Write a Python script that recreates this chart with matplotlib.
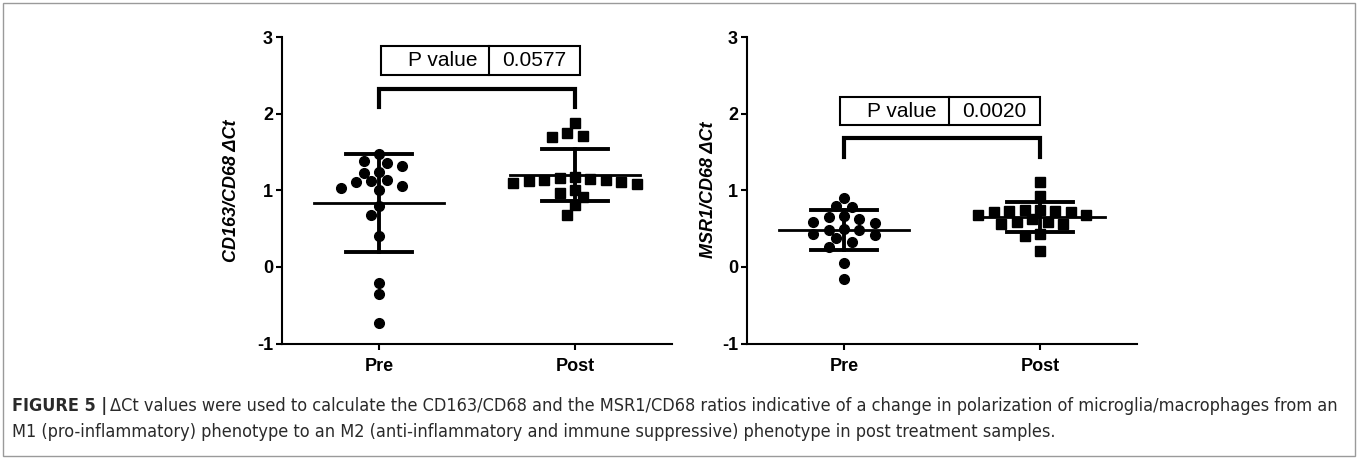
import matplotlib
matplotlib.use("Agg")
import matplotlib.pyplot as plt
from matplotlib.patches import Rectangle
import numpy as np

plt.rcParams['font.family'] = ['Liberation Sans', 'DejaVu Sans']

groups = ["Pre", "Post"]

cd163_pre = [1.47, 1.35, 1.38, 1.24, 1.22, 1.32, 1.12, 1.06, 1.005, 1.035,
             1.11, 1.135, 0.80, 0.68, 0.40, -0.21, -0.35, -0.73]
cd163_post = [1.876, 1.714, 1.69, 1.745, 1.13, 1.10, 1.15, 1.12, 1.14,
              1.11, 1.16, 1.17, 1.08, 0.96, 0.91, 1.005, 0.81, 0.68]

msr1_pre = [0.897, 0.78, 0.80, 0.66, 0.62, 0.57, 0.58, 0.65, 0.43, 0.375,
            0.48, 0.48, 0.50, 0.42, 0.32, 0.265, 0.05, -0.16]
msr1_post = [1.11, 0.93, 0.74, 0.73, 0.72, 0.72, 0.73, 0.74, 0.68, 0.68,
             0.58, 0.56, 0.56, 0.58, 0.62, 0.43, 0.40, 0.21]

p_values = ["0.0577", "0.0020"]
y_labels = ["CD163/CD68 \u0394Ct", "MSR1/CD68 \u0394Ct"]

caption_head = "FIGURE 5 |"
caption_l1 = ("\u0394Ct values were used to calculate the CD163/CD68 and the MSR1/CD68 ratios "
              "indicative of a change in polarization of microglia/macrophages from an")
caption_l2 = ("M1 (pro-inflammatory) phenotype to an M2 (anti-inflammatory and immune "
              "suppressive) phenotype in post treatment samples.")

# pixel scale of the axes (data unit -> px), used for the swarm layout
PX_X = 196.0
PX_Y = 76.6


def swarm_offsets(vals, step_px=7.7, diam_px=10.5):
    # simple beeswarm: highest value first, nearest free slot to the centre
    vals = np.asarray(vals, dtype=float)
    order = np.argsort(-vals)
    placed = []
    off = np.zeros(len(vals))
    ks = [0]
    for k in range(1, 12):
        ks += [-k, k]
    for i in order:
        y = vals[i] * PX_Y
        for k in ks:
            x = k * step_px
            if all((x - px) ** 2 + (y - py) ** 2 >= diam_px ** 2 for px, py in placed):
                placed.append((x, y))
                off[i] = x / PX_X
                break
    return off


def draw_panel(ax, pre, post, pval, ylabel, box_x, bracket_y, box_y):
    for x0, vals, mk in [(0, pre, 'o'), (1, post, 's')]:
        vals = np.asarray(vals)
        xs = x0 + swarm_offsets(vals)
        ax.plot(xs, vals, ls='none', marker=mk, color='black',
                markersize=7.0, zorder=3, clip_on=False)
        m = vals.mean()
        sd = vals.std(ddof=1)
        ax.plot([x0 - 0.33, x0 + 0.33], [m, m], color='black', lw=2.0, zorder=4)
        ax.plot([x0, x0], [m - sd, m + sd], color='black', lw=2.8, zorder=4)
        for yy in (m - sd, m + sd):
            ax.plot([x0 - 0.166, x0 + 0.166], [yy, yy], color='black', lw=2.8, zorder=4)

    # significance bracket
    b_top, b_bot = bracket_y
    ax.plot([0, 0, 1, 1], [b_bot, b_top, b_top, b_bot], color='black', lw=3.0,
            solid_joinstyle='miter', clip_on=False)

    # P value table
    x_l, x_mid, x_r = box_x
    y_b, y_t = box_y
    ax.add_patch(Rectangle((x_l, y_b), x_r - x_l, y_t - y_b, fill=False,
                           ec='black', lw=1.5, clip_on=False))
    ax.plot([x_mid, x_mid], [y_b, y_t], color='black', lw=1.5, clip_on=False)
    yc = (y_b + y_t) / 2
    ax.text(x_mid - 0.06, yc, "P value", ha='right', va='center', fontsize=15)
    ax.text((x_mid + x_r) / 2, yc, pval, ha='center', va='center', fontsize=15)

    ax.set_xlim(-0.495, 1.495)
    ax.set_ylim(-1, 3)
    ax.set_yticks([-1, 0, 1, 2, 3])
    ax.set_yticklabels(["-1", "0", "1", "2", "3"])
    ax.set_xticks([0, 1])
    ax.set_xticklabels(groups)
    for s in ('top', 'right'):
        ax.spines[s].set_visible(False)
    for s in ('left', 'bottom'):
        ax.spines[s].set_linewidth(1.5)
    ax.tick_params(width=1.5, length=4.5, labelsize=13, pad=2)
    ax.tick_params(axis='x', labelsize=13, pad=6)
    for lab in ax.get_xticklabels() + ax.get_yticklabels():
        lab.set_fontweight('bold')
    ax.set_ylabel(ylabel, fontsize=13, fontweight='bold', fontstyle='italic')


fig = plt.figure(figsize=(13.58, 4.59), dpi=100)
ax1 = fig.add_axes([282 / 1358, 1 - 343.5 / 459, 390 / 1358, 306.5 / 459])
ax2 = fig.add_axes([747 / 1358, 1 - 343.5 / 459, 390 / 1358, 306.5 / 459])

draw_panel(ax1, cd163_pre, cd163_post, p_values[0], y_labels[0],
           box_x=(0.009, 0.561, 1.026), bracket_y=(2.32, 2.09), box_y=(2.51, 2.885))
draw_panel(ax2, msr1_pre, msr1_post, p_values[1], y_labels[1],
           box_x=(-0.019, 0.534, 0.998), bracket_y=(1.68, 1.44), box_y=(1.85, 2.215))
ax1.yaxis.set_label_coords(-0.108, 0.5)
ax2.yaxis.set_label_coords(-0.078, 0.5)

# outer frame around figure + caption
fig.add_artist(Rectangle((3 / 1358, 3 / 459), 1352 / 1358, 453 / 459, fill=False,
                         ec='#9a9a9a', lw=1.0, transform=fig.transFigure))

cap_fam = ['DejaVu Sans']
cap_col = '#2a2a2a'
y1 = 1 - 406 / 459
y2 = 1 - 432 / 459
cap_kw = dict(fontsize=13, family=cap_fam, fontstretch='condensed', color=cap_col,
              va='center', ha='left')
head = fig.text(12 / 1358, y1, caption_head, fontweight='bold', **cap_kw)
fig.canvas.draw()
bb = head.get_window_extent(fig.canvas.get_renderer())
fig.text(bb.x1 / fig.bbox.width + 3 / 1358, y1, caption_l1, **cap_kw)
fig.text(12 / 1358, y2, caption_l2, **cap_kw)

fig.savefig("out.png", dpi=100)
